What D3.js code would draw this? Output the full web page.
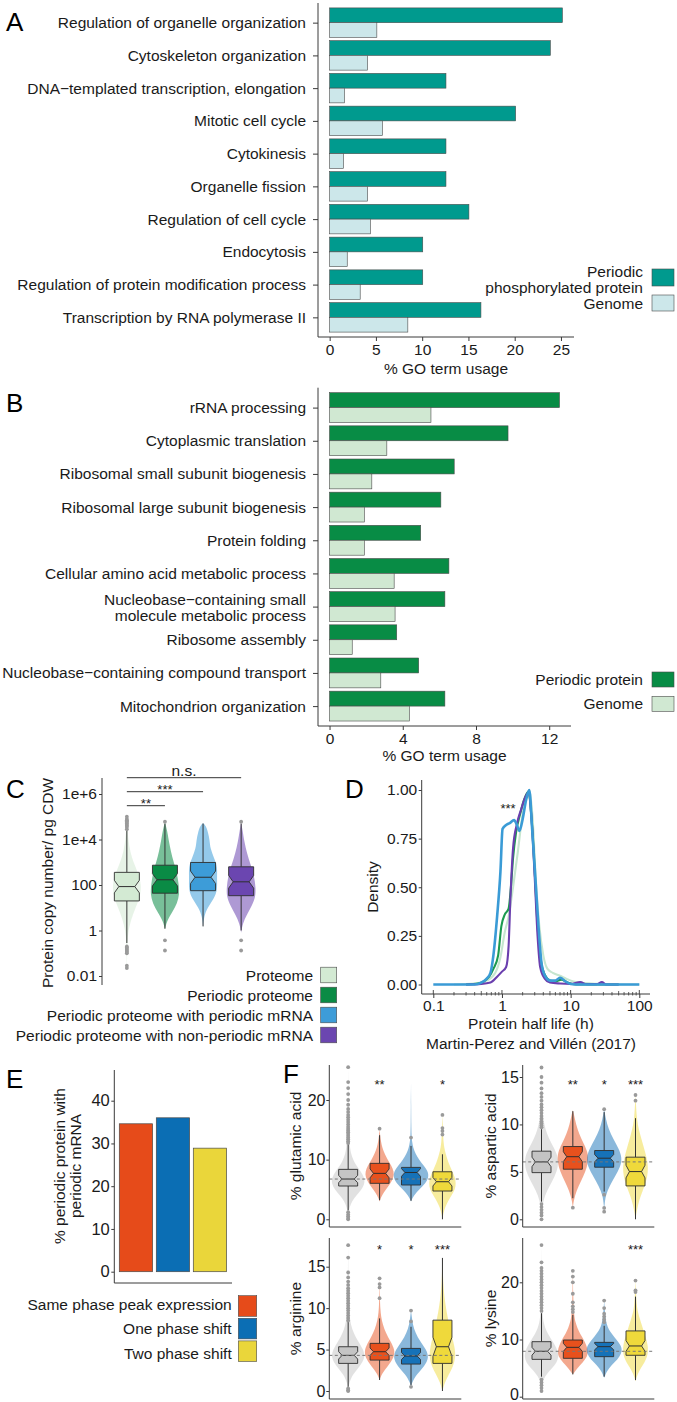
<!DOCTYPE html>
<html><head><meta charset="utf-8">
<script src="https://cdn.jsdelivr.net/npm/d3@7"></script>
<style>body{margin:0;background:#fff}svg{display:block}</style>
</head><body>
<svg id="c" width="677" height="1402"></svg>
<script>
// ================= DATA =================
const aCategories = ["Regulation of organelle organization","Cytoskeleton organization","DNA\u2212templated transcription, elongation","Mitotic cell cycle","Cytokinesis","Organelle fission","Regulation of cell cycle","Endocytosis","Regulation of protein modification process","Transcription by RNA polymerase II"];
const aPeriodic = [25.15, 23.85, 12.57, 20.1, 12.57, 12.57, 15.05, 10.06, 10.06, 16.35];
const aGenome = [5.1, 4.1, 1.6, 5.7, 1.5, 4.1, 4.4, 1.9, 3.3, 8.45];
const aTicks = [0, 5, 10, 15, 20, 25];
const aLegend = ["Periodic\nphosphorylated protein", "Genome"];

const bCategories = ["rRNA processing","Cytoplasmic translation","Ribosomal small subunit biogenesis","Ribosomal large subunit biogenesis","Protein folding","Cellular amino acid metabolic process","Nucleobase\u2212containing small\nmolecule metabolic process","Ribosome assembly","Nucleobase\u2212containing compound transport","Mitochondrion organization"];
const bPeriodic = [12.56, 9.75, 6.81, 6.08, 4.98, 6.52, 6.3, 3.67, 4.87, 6.3];
const bGenome = [5.54, 3.13, 2.31, 1.9, 1.9, 3.53, 3.58, 1.24, 2.8, 4.36];
const bTicks = [0, 4, 8, 12];
const bLegend = ["Periodic protein", "Genome"];

const cGroups = ["Proteome","Periodic proteome","Periodic proteome with periodic mRNA","Periodic proteome with non-periodic mRNA"];
// [low whisker, Q1, median, Q3, high whisker] in log10(copies / pg CDW)
const cBoxLog10 = [[-0.55,1.30,1.93,2.555,4.4],[0.08,1.64,2.23,2.87,4.7],[0.18,1.75,2.34,2.99,4.7],[0.0,1.53,2.14,2.8,4.7]];
const cOutliersLog10 = [[-0.7,-0.75,-0.8,-0.85,-0.9,-0.95,-1.0,-1.55,-1.65,4.45,4.55,4.6,4.65,4.7,4.75,4.8,4.85,4.9,5.0],[-0.43,-0.88,4.78],[],[-0.43,-0.88,4.78]];
const cViolinLog10 = [
  [[-1.75,0],[-1,0.02],[-0.5,0.04],[0,0.1],[0.5,0.3],[1,0.6],[1.5,0.92],[2,1.0],[2.5,0.8],[3,0.45],[3.5,0.22],[4,0.1],[4.5,0.04],[5,0]],
  [[0.05,0],[0.4,0.12],[0.8,0.5],[1.2,0.85],[1.6,1.0],[2.0,0.95],[2.5,0.85],[3.0,0.6],[3.5,0.4],[4.0,0.25],[4.4,0.15],[4.75,0]],
  [[0.15,0],[0.6,0.06],[1.0,0.3],[1.4,0.75],[1.8,1.0],[2.3,0.95],[2.8,1.0],[3.2,0.75],[3.6,0.5],[4.0,0.45],[4.3,0.35],[4.6,0.2],[4.72,0]],
  [[-0.1,0],[0.3,0.1],[0.7,0.4],[1.1,0.75],[1.5,1.0],[1.9,1.0],[2.4,0.9],[2.9,0.65],[3.4,0.4],[3.9,0.22],[4.4,0.1],[4.75,0]]
];
const cTickLog10 = [-2, 0, 2, 4, 6];
const cTickLabels = ["0.01", "1", "100", "1e+4", "1e+6"];
const cSignif = [{to:1,label:"**"},{to:2,label:"***"},{to:3,label:"n.s."}];

// D: scaled density of protein half life (h)
const dProteome = [[0.2,0],[0.4,0.005],[0.6,0.02],[0.8,0.06],[0.95,0.14],[1.1,0.27],[1.25,0.35],[1.45,0.5],[1.7,0.68],[1.95,0.85],[2.25,0.97],[2.5,1.0],[2.8,0.85],[3.1,0.55],[3.5,0.3],[4.0,0.15],[4.6,0.08],[5.5,0.06],[7,0.045],[8.6,0.03],[11,0.015],[16,0.007],[25,0.003],[40,0],[100,0]];
const dPeriodic = [[0.3,0],[0.45,0.005],[0.54,0.015],[0.65,0.04],[0.75,0.08],[0.88,0.15],[0.98,0.3],[1.1,0.36],[1.25,0.39],[1.35,0.5],[1.45,0.65],[1.6,0.78],[1.85,0.88],[2.1,0.95],[2.4,0.99],[2.7,0.85],[3.0,0.58],[3.3,0.3],[3.7,0.12],[4.2,0.05],[5,0.02],[6,0.015],[7.3,0.025],[9,0.01],[12,0],[50,0]];
const dNonPeriodicMRNA = [[0.3,0],[0.5,0.003],[0.68,0.01],[0.85,0.04],[1.0,0.066],[1.15,0.09],[1.25,0.2],[1.33,0.45],[1.45,0.7],[1.65,0.825],[1.9,0.9],[2.2,0.965],[2.45,0.99],[2.7,0.85],[3.0,0.55],[3.3,0.25],[3.6,0.09],[4.2,0.03],[5,0.01],[7,0.005],[10,0.003],[13.8,0.012],[17,0.002],[24,0.002],[28.5,0.012],[33,0],[50,0]];
const dPeriodicMRNA = [[0.1,0],[0.4,0],[0.5,0.01],[0.6,0.03],[0.68,0.06],[0.75,0.15],[0.85,0.35],[0.95,0.58],[1.02,0.8],[1.15,0.82],[1.3,0.83],[1.5,0.845],[1.65,0.82],[1.8,0.79],[2.0,0.85],[2.25,0.95],[2.5,1.0],[2.75,0.8],[3.0,0.6],[3.4,0.3],[3.8,0.1],[4.3,0.04],[5,0.02],[6,0.02],[7,0.035],[8.5,0.015],[10,0.003],[14,0],[100,0]];
const dXTicks = [0.1, 1, 10, 100];
const dYTicks = [0, 0.25, 0.5, 0.75, 1];

const eCategories = ["Same phase peak expression", "One phase shift", "Two phase shift"];
const eValues = [34.6, 36.0, 28.9];
const eTicks = [0, 10, 20, 30, 40];

const fGroups = ["Proteome", "Same phase", "One phase shift", "Two phase shift"];
// [low whisker, Q1, median, Q3, high whisker] in % of residues
const fGluBox = [[1.5,5.58,6.75,8.37,12.6],[3.2,6.03,7.7,9.38,14.1],[3.1,5.75,7.85,8.7,12.3],[0,4.74,6.3,7.97,10.9]];
const fGluOut = [[1.2,0.8,0.5,0.2,0,12.8,13.1,13.4,13.7,14.0,14.3,14.6,14.9,15.2,15.5,15.9,16.3,16.7,17.1,17.5,18.0,18.5,19.2,20.0,21.0,22.0,23.0,25.5],[15.2],[13.7],[14.2,14.8,15.3,17.5]];
const fGluViolin = [
  [[0,0],[1,0.02],[2,0.08],[3,0.2],[4,0.45],[5,0.75],[6,0.92],[7,0.9],[8,0.7],[9,0.45],[10,0.28],[11,0.16],[12,0.1],[14,0.05],[16,0.03],[18,0.015],[21,0.01],[25.5,0]],
  [[3,0],[4,0.12],[5,0.35],[6,0.6],[7,0.78],[8,0.8],[9,0.65],[10,0.45],[11,0.28],[12,0.15],[13,0.08],[14,0.03],[15.2,0]],
  [[3,0],[4,0.15],[5,0.45],[6,0.8],[7,0.98],[8,0.95],[9,0.7],[10,0.45],[11,0.25],[12,0.12],[13,0.06],[14,0.03],[16,0.015],[19,0.01],[22.8,0]],
  [[0,0],[1,0.05],[2,0.15],[3,0.3],[4,0.5],[5,0.7],[6,0.75],[7,0.7],[8,0.55],[9,0.4],[10,0.28],[11,0.18],[12,0.1],[13,0.06],[14,0.04],[16,0.02],[17.5,0]]
];
const fGluStars = ["", "**", "", "*"];

const fAspBox = [[1.86,4.92,6.05,7.18,9.5],[2.22,5.28,6.6,7.67,11.4],[2.92,5.49,6.44,7.25,11.3],[0,3.52,5.03,6.55,10.66]];
const fAspOut = [[1.6,1.3,1.0,0.7,0.4,0,9.7,9.9,10.1,10.3,10.6,10.9,11.2,11.5,11.8,12.1,12.5,12.9,13.3,13.8,14.4,15.0,16.0],[1.23],[2.6,1.2,0.8,11.6],[12.5,13.1]];
const fAspViolin = [
  [[0,0],[1,0.03],[2,0.1],[3,0.3],[4,0.6],[5,0.85],[6,0.95],[7,0.85],[8,0.55],[9,0.3],[10,0.15],[11,0.07],[12,0.04],[13,0.02],[14,0.01],[16,0]],
  [[1.2,0],[2,0.05],[3,0.2],[4,0.45],[5,0.7],[6,0.85],[7,0.85],[8,0.6],[9,0.35],[10,0.18],[11,0.07],[11.5,0]],
  [[0.8,0],[1.5,0.02],[2.5,0.08],[3.5,0.3],[4.5,0.6],[5.5,0.9],[6.5,1.0],[7.5,0.8],[8.5,0.5],[9.5,0.25],[10.5,0.1],[11.6,0]],
  [[0,0],[1,0.08],[2,0.2],[3,0.4],[4,0.6],[5,0.7],[6,0.68],[7,0.55],[8,0.4],[9,0.25],[10,0.12],[11,0.06],[12,0.03],[13.1,0]]
];
const fAspStars = ["", "**", "*", "***"];

const fArgBox = [[0.5,3.33,4.3,5.34,8.35],[1.33,3.73,4.74,5.75,8.76],[0.72,3.25,4.22,5.14,7.75],[0,3.33,5.34,8.55,16.06]];
const fArgOut = [[0.3,0.1,0,8.5,8.8,9.1,9.4,9.7,10,10.3,10.6,10.9,11.2,11.5,11.8,12.1,12.4,12.8,13.2,13.7,14.3,16.1,17.6],[11.2,12.5,12.9,13.6],[0.5,8.4,9.7],[]];
const fArgViolin = [
  [[0,0],[1,0.05],[2,0.25],[3,0.65],[4,0.95],[5,0.85],[6,0.55],[7,0.3],[8,0.15],[9,0.08],[10,0.05],[12,0.02],[14,0.01],[17.6,0]],
  [[1.3,0],[2,0.1],[3,0.45],[4,0.8],[5,0.85],[6,0.6],[7,0.35],[8,0.18],[9,0.08],[10,0.04],[11,0.02],[13.6,0]],
  [[0.5,0],[1,0.05],[2,0.3],[3,0.75],[4,1.0],[5,0.85],[6,0.5],[7,0.25],[8,0.1],[9,0.04],[9.7,0]],
  [[0,0],[1,0.12],[2,0.35],[3,0.6],[4,0.72],[5,0.7],[6,0.6],[7,0.48],[8,0.38],[9,0.28],[10,0.2],[11,0.13],[12,0.08],[13,0.05],[14,0.03],[16.1,0]]
];
const fArgStars = ["", "*", "*", "***"];

const fLysBox = [[3.5,6.53,7.94,9.62,14.6],[3.9,6.71,8.63,9.91,14.3],[3.5,7.0,8.75,9.5,12.4],[2.9,7.24,8.87,11.5,17.5]];
const fLysOut = [[3.0,2.5,2.0,1.5,1.0,15,15.5,16,16.5,17,17.5,18,18.5,19,19.5,20,20.5,21,21.5,22,22.5,23.5,26.5],[14.8,15.3,15.8,16.5,18,20,21,22],[13,13.5,14,14.5,15.5,16.8],[18.3,18.6,20.3]];
const fLysViolin = [
  [[1,0],[2,0.03],[3,0.1],[4,0.3],[5,0.6],[6,0.85],[7,0.95],[8,0.9],[9,0.75],[10,0.55],[11,0.35],[12,0.2],[13,0.12],[14,0.07],[16,0.04],[18,0.02],[21,0.01],[26.5,0]],
  [[3.9,0],[5,0.25],[6,0.55],[7,0.8],[8,0.85],[9,0.75],[10,0.6],[11,0.4],[12,0.25],[13,0.15],[14,0.08],[16,0.04],[18,0.02],[22,0]],
  [[3.3,0],[4.5,0.15],[5.5,0.4],[6.5,0.75],[7.5,0.95],[8.5,1.0],[9.5,0.8],[10.5,0.55],[11.5,0.3],[12.5,0.15],[14,0.06],[16.8,0]],
  [[2.7,0],[4,0.12],[5,0.3],[6,0.5],[7,0.65],[8,0.7],[9,0.68],[10,0.6],[11,0.5],[12,0.4],[13,0.3],[14,0.2],[15,0.12],[16,0.07],[18,0.03],[20.3,0]]
];
const fLysStars = ["", "", "", "***"];

// ================= STYLE =================
const FF = '"Liberation Sans", Arial, Helvetica, sans-serif';
const FS = 15.5;
const AX = '#3a3a3a', TXT = '#1a1a1a', EDGE = '#4a4a4a', OUT = '#9a9a9a';
const aColors = ["#009A8E", "#CCE7EA"];
const bColors = ["#088C45", "#D0E8D2"];
const cColors = ["#D3EAD3", "#0A8B45", "#3D9CD8", "#6B46B0"];
const dColors = ["#C6E6CF", "#1C9A4F", "#6A3FAE", "#3A9BD6"];
const eColors = ["#E64B1A", "#0B6EB4", "#EAD63A"];
const fColors = ["#C4C4C4", "#E8511D", "#1672B8", "#EFD93B"];

const svg = d3.select('#c').attr('font-family', FF);

function txt(g, x, y, s, o = {}) {
  return g.append('text').attr('x', x).attr('y', y).text(s)
    .attr('font-size', o.size || FS).attr('fill', o.fill || TXT)
    .attr('text-anchor', o.anchor || 'start')
    .attr('dominant-baseline', o.base || 'central');
}
function vtxt(g, x, y, s, size = FS) {
  return g.append('text').attr('transform', `translate(${x},${y}) rotate(-90)`).text(s)
    .attr('font-size', size).attr('fill', TXT).attr('text-anchor', 'middle').attr('dominant-baseline', 'central');
}
function line(g, x1, y1, x2, y2, o = {}) {
  return g.append('line').attr('x1', x1).attr('y1', y1).attr('x2', x2).attr('y2', y2)
    .attr('stroke', o.stroke || AX).attr('stroke-width', o.w || 1).attr('stroke-dasharray', o.dash || null);
}
function styleAxis(g, size) {
  g.select('.domain').remove();
  g.attr('font-family', FF).attr('font-size', size || FS);
  g.selectAll('line').attr('stroke', AX);
  g.selectAll('text').attr('fill', TXT);
  return g;
}
function letter(x, y, s) { txt(svg, x, y, s, {size: 26, base: 'alphabetic', fill: '#000'}); }

// ============ Horizontal bar panels (A, B) ============
function hbar(o) {
  const g = svg.append('g');
  const y = d3.scalePoint().domain(o.cats).range(o.yRange).padding(0.6);
  const x = d3.scaleLinear().domain(o.xDomain).range(o.xRange);
  const h = y.step() * 0.45;
  g.selectAll('rect.dk').data(o.cats).join('rect')
    .attr('x', x(0)).attr('y', c => y(c) - h).attr('height', h)
    .attr('width', (c, i) => x(o.dark[i]) - x(0))
    .attr('fill', o.colors[0]).attr('stroke', EDGE).attr('stroke-width', 0.6);
  g.selectAll('rect.lt').data(o.cats).join('rect')
    .attr('x', x(0)).attr('y', c => y(c)).attr('height', h)
    .attr('width', (c, i) => x(o.light[i]) - x(0))
    .attr('fill', o.colors[1]).attr('stroke', EDGE).attr('stroke-width', 0.6);
  line(g, o.xRange[0], o.yRange[0], o.xRange[0], o.yRange[1]);
  line(g, o.xRange[0], o.yRange[1], o.xRange[1], o.yRange[1]);
  const ya = g.append('g').attr('transform', `translate(${o.xRange[0]},0)`)
    .call(d3.axisLeft(y).tickSize(5).tickPadding(7));
  styleAxis(ya);
  ya.selectAll('text').each(function (d) {
    const parts = d.split('\n');
    if (parts.length > 1) {
      const t = d3.select(this).text(null).attr('dy', null).attr('dominant-baseline', 'central');
      parts.forEach((p, i) => t.append('tspan').attr('x', -12).attr('dy', i === 0 ? '-0.5em' : '1.0em').text(p));
    }
  });
  const xa = g.append('g').attr('transform', `translate(0,${o.yRange[1]})`)
    .call(d3.axisBottom(x).tickValues(o.ticks).tickSize(4).tickPadding(2.5));
  styleAxis(xa);
  txt(g, (o.xRange[0] + o.xRange[1]) / 2, o.titleY, '% GO term usage', {anchor: 'middle'});
  return g;
}
hbar({cats: aCategories, dark: aPeriodic, light: aGenome, colors: aColors, ticks: aTicks,
  yRange: [3, 337], xDomain: [-1.26, 26.41], xRange: [318, 574], titleY: 368});
hbar({cats: bCategories, dark: bPeriodic, light: bGenome, colors: bColors, ticks: bTicks,
  yRange: [387.7, 726], xDomain: [-0.63, 13.19], xRange: [318, 571], titleY: 755});

// legends A/B
(function () {
  const g = svg.append('g');
  g.append('rect').attr('x', 652).attr('y', 269).attr('width', 22).attr('height', 17).attr('fill', aColors[0]).attr('stroke', EDGE).attr('stroke-width', 0.6);
  g.append('rect').attr('x', 652).attr('y', 295).attr('width', 22).attr('height', 16).attr('fill', aColors[1]).attr('stroke', EDGE).attr('stroke-width', 0.6);
  const l0 = aLegend[0].split('\n');
  txt(g, 643, 271, l0[0], {anchor: 'end'});
  txt(g, 643, 287, l0[1], {anchor: 'end'});
  txt(g, 643, 303, aLegend[1], {anchor: 'end'});
  bLegend.forEach((s, i) => {
    g.append('rect').attr('x', 652).attr('y', 672 + i * 24.3).attr('width', 22).attr('height', 15).attr('fill', bColors[i]).attr('stroke', EDGE).attr('stroke-width', 0.6);
    txt(g, 643, 679.5 + i * 24.3, s, {anchor: 'end'});
  });
})();

// ============ shared box/violin drawing ============
function violinBox(g, cx, y, prof, box, outs, color, W, bw, vOpacity) {
  const area = d3.area().curve(d3.curveBasis)
    .y(d => y(d[0])).x0(d => cx - d[1] * W).x1(d => cx + d[1] * W);
  g.append('path').attr('d', area(prof)).attr('fill', color).attr('opacity', vOpacity);
  const [lo, q1, md, q3, hi] = box;
  line(g, cx, y(q3), cx, y(hi), {stroke: '#333', w: 1});
  line(g, cx, y(q1), cx, y(lo), {stroke: '#333', w: 1});
  const nh = 0.22 * (q3 - q1), ins = bw * 0.18;
  const x0 = cx - bw / 2, x1 = cx + bw / 2;
  const pts = [[x0, y(q3)], [x1, y(q3)], [x1, y(md + nh)], [x1 - ins, y(md)], [x1, y(md - nh)], [x1, y(q1)],
    [x0, y(q1)], [x0, y(md - nh)], [x0 + ins, y(md)], [x0, y(md + nh)]];
  g.append('path').attr('d', 'M' + pts.map(p => p.join(',')).join('L') + 'Z')
    .attr('fill', color).attr('stroke', '#2f2f2f').attr('stroke-width', 0.9);
  line(g, x0 + ins, y(md), x1 - ins, y(md), {stroke: '#2f2f2f', w: 1});
  g.selectAll(null).data(outs).join('circle').attr('cx', cx).attr('cy', v => y(v)).attr('r', 1.9).attr('fill', OUT);
}

// ============ Panel C ============
(function () {
  const g = svg.append('g');
  const x = d3.scalePoint().domain(cGroups).range([104, 264]).padding(0.6);
  const y = d3.scaleLinear().domain([-2, 6]).range([976, 794]);
  cGroups.forEach((grp, i) => violinBox(g, x(grp), y, cViolinLog10[i], cBoxLog10[i], cOutliersLog10[i], cColors[i], 14.5, 25, 0.55));
  line(g, 102, 778, 102, 985);
  const ya = g.append('g').attr('transform', 'translate(102,0)')
    .call(d3.axisLeft(y).tickValues(cTickLog10).tickFormat((d, i) => cTickLabels[i]).tickSize(3).tickPadding(2));
  styleAxis(ya);
  vtxt(g, 47, 883, 'Protein copy number/ pg CDW');
  const lvY = [805.7, 791.7, 777.7];
  cSignif.forEach((s, i) => {
    const xa = x(cGroups[0]), xb = x(cGroups[s.to]);
    line(g, xa, lvY[i], xb, lvY[i], {stroke: '#333', w: 1});
    if (s.label === 'n.s.') txt(g, (xa + xb) / 2, lvY[i] - 2.2, s.label, {anchor: 'middle', base: 'alphabetic'});
    else txt(g, (xa + xb) / 2, lvY[i] + 2, s.label, {anchor: 'middle', base: 'alphabetic', size: 13});
  });
  cGroups.forEach((s, i) => {
    g.append('rect').attr('x', 320.7).attr('y', 967.2 + i * 20).attr('width', 16).attr('height', 15.6)
      .attr('fill', cColors[i]).attr('stroke', EDGE).attr('stroke-width', 0.6);
    txt(g, 313, 975 + i * 20, s, {anchor: 'end'});
  });
})();

// ============ Panel D ============
(function () {
  const g = svg.append('g');
  const x = d3.scaleLog().domain([0.1, 100]).range([433.3, 639.3]);
  const y = d3.scaleLinear().domain([0, 1]).range([984.5, 790]);
  const ln = d3.line().curve(d3.curveMonotoneX).x(d => x(d[0])).y(d => y(d[1]));
  [dProteome, dPeriodic, dNonPeriodicMRNA, dPeriodicMRNA].forEach((s, i) => {
    g.append('path').attr('d', ln(s)).attr('fill', 'none').attr('stroke', dColors[i])
      .attr('stroke-width', i === 3 ? 2.6 : 2.1).attr('stroke-linejoin', 'round');
  });
  line(g, 421.7, 780, 421.7, 994);
  line(g, 421.7, 994, 650, 994);
  const ya = g.append('g').attr('transform', 'translate(421.7,0)')
    .call(d3.axisLeft(y).tickValues(dYTicks).tickFormat(d3.format('.2f')).tickSize(3).tickPadding(1.5));
  styleAxis(ya);
  const xa = g.append('g').attr('transform', 'translate(0,994)')
    .call(d3.axisBottom(x).tickValues(dXTicks).tickFormat(d3.format('~g')).tickSize(4).tickPadding(2));
  styleAxis(xa);
  [0.1, 1, 10].forEach(dec => d3.range(2, 10).forEach(k => {
    const xv = x(dec * k);
    line(g, xv, 994 - (k === 5 ? 3 : 2), xv, 995.5, {w: 0.8});
  }));
  dXTicks.forEach(v => line(g, x(v), 990, x(v), 994, {w: 0.9}));
  txt(g, 508, 813, '***', {anchor: 'middle', base: 'alphabetic', size: 13});
  vtxt(g, 372, 887, 'Density');
  txt(g, 531, 1023, 'Protein half life (h)', {anchor: 'middle'});
  txt(g, 531, 1043, 'Martin-Perez and Vill\u00e9n (2017)', {anchor: 'middle'});
})();

// ============ Panel E ============
(function () {
  const g = svg.append('g');
  const x = d3.scaleBand().domain(eCategories).range([113.75, 232.15]).paddingInner(0.1).paddingOuter(0.15);
  const y = d3.scaleLinear().domain([0, 40]).range([1271.7, 1100.7]);
  g.selectAll('rect.b').data(eCategories).join('rect')
    .attr('x', c => x(c)).attr('width', x.bandwidth())
    .attr('y', (c, i) => y(eValues[i])).attr('height', (c, i) => y(0) - y(eValues[i]))
    .attr('fill', (c, i) => eColors[i]).attr('stroke', EDGE).attr('stroke-width', 0.7);
  line(g, 114.3, 1070, 114.3, 1283);
  line(g, 114.3, 1283, 232, 1283);
  const ya = g.append('g').attr('transform', 'translate(114.3,0)')
    .call(d3.axisLeft(y).tickValues(eTicks).tickSize(3).tickPadding(1.5));
  styleAxis(ya, 16.5);
  vtxt(g, 59, 1166, '% periodic protein with');
  vtxt(g, 75, 1166, 'periodic mRNA');
  eCategories.forEach((s, i) => {
    g.append('rect').attr('x', 238.3).attr('y', 1295.7 + i * 22.6).attr('width', 18.4).attr('height', 20.6)
      .attr('fill', eColors[i]).attr('stroke', EDGE).attr('stroke-width', 0.6);
    txt(g, 231.7, 1304 + i * 24.9, s, {anchor: 'end'});
  });
})();

// ============ Panel F ============
function fPanel(o) {
  const g = svg.append('g');
  const x = d3.scalePoint().domain(fGroups).range([o.x0, o.x1]).padding(0.6);
  const y = d3.scaleLinear().domain([0, o.refV]).range([o.zeroY, o.refY]);
  fGroups.forEach((grp, i) => violinBox(g, x(grp), y, o.violin[i], o.box[i], o.out[i], fColors[i], 18, 19, 0.5));
  line(g, o.x0, y(o.box[0][2]), o.x1, y(o.box[0][2]), {stroke: '#777', w: 1, dash: '3,2.5'});
  line(g, o.x0, o.top, o.x0, o.bottom);
  line(g, o.x0, o.bottom, o.x1, o.bottom);
  const ya = g.append('g').attr('transform', `translate(${o.x0},0)`)
    .call(d3.axisLeft(y).tickValues(o.ticks).tickSize(3).tickPadding(0.8));
  styleAxis(ya, 16);
  if (o.lift) ya.selectAll('text').filter(d => d === 0).attr('dy', '0.2em');
  o.stars.forEach((s, i) => { if (s) txt(g, x(fGroups[i]), o.starY + 7, s, {anchor: 'middle', base: 'alphabetic', size: 13}); });
  vtxt(g, o.titleX, (o.top + o.bottom) / 2, o.title);
}
fPanel({x0: 329.3, x1: 461.3, zeroY: 1219.3, refV: 20, refY: 1100, top: 1065, bottom: 1227, ticks: [0, 10, 20],
  box: fGluBox, out: fGluOut, violin: fGluViolin, stars: fGluStars, starY: 1082.3, title: '% glutamic acid', titleX: 295});
fPanel({x0: 522.7, x1: 654.3, zeroY: 1219.3, refV: 15, refY: 1077, top: 1065, bottom: 1227, ticks: [0, 5, 10, 15],
  box: fAspBox, out: fAspOut, violin: fAspViolin, stars: fAspStars, starY: 1082.3, title: '% aspartic acid', titleX: 490});
fPanel({x0: 329.3, x1: 461.3, zeroY: 1391, refV: 15, refY: 1266.7, top: 1238, bottom: 1399, ticks: [0, 5, 10, 15],
  box: fArgBox, out: fArgOut, violin: fArgViolin, stars: fArgStars, starY: 1247.3, title: '% arginine', titleX: 295});
fPanel({x0: 522.7, x1: 654.3, zeroY: 1396.7, refV: 20, refY: 1282.3, top: 1238, bottom: 1399, ticks: [0, 10, 20], lift: true,
  box: fLysBox, out: fLysOut, violin: fLysViolin, stars: fLysStars, starY: 1247.3, title: '% lysine', titleX: 490});

letter(6, 31, 'A');
letter(6, 412, 'B');
letter(6, 798, 'C');
letter(345, 798, 'D');
letter(6, 1088, 'E');
letter(283, 1083, 'F');
</script>
</body></html>
